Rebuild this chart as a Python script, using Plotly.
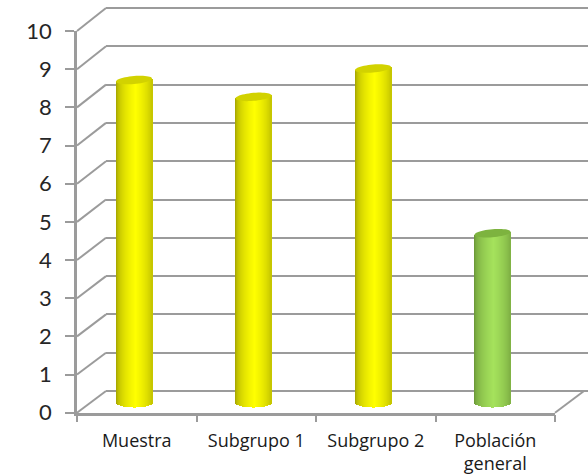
import math
import plotly.graph_objects as go

categories = ["Muestra", "Subgrupo 1", "Subgrupo 2", "Población<br>general"]
values = [8.42, 7.98, 8.72, 4.42]
y_ticks = list(range(0, 11))

W, H = 588, 476
GRID = "#9b9b9b"
TEXT = "#262626"
FONT = "Lato, sans-serif"
XFONT = "Open Sans, sans-serif"

# colour stops per bar: (edge, centre, cap)
palette = [
    ((140, 140, 0), (255, 255, 0), "#d2d200"),
    ((140, 140, 0), (255, 255, 0), "#d2d200"),
    ((140, 140, 0), (255, 255, 0), "#d2d200"),
    ((90, 130, 45), (165, 226, 92), "#7db33f"),
]


def px(v):
    return v / W


def py(v):
    return 1 - v / H


fig = go.Figure()

# Front axes: ticks and labels
FX0, FX1, FY0, FY10 = 77, 555, 412.7, 31
# Back wall: gridlines
BX0, BX1, BY0, BY10 = 106, 588, 391, 8
# Bar plane: a full-page axis, pixel aligned
CENTER0, STEP, BAR_Y0, UNIT = 134, 119.5, 402.5, 38.3
BAR_HALF_PX, ELL_PX, ELL_BOTTOM_PX, TILT_PX = 18, 4.0, 5.0, 1.5

bar_half = BAR_HALF_PX / STEP
ell = ELL_PX / UNIT
ell_bottom = ELL_BOTTOM_PX / UNIT
tilt = TILT_PX / UNIT

strips = 36
for s in range(strips):
    t0 = -1 + 2 * s / strips
    t1 = t0 + 2 / strips
    t = (t0 + t1) / 2
    arc = math.sqrt(max(0, 1 - t * t)) * ell_bottom
    shade = max(0.0, 1 - abs(t - 0.08) / 1.08) ** 0.38
    cols = []
    for edge, centre, _ in palette:
        c = [round(edge[i] + (centre[i] - edge[i]) * shade) for i in range(3)]
        cols.append(f"rgb({c[0]},{c[1]},{c[2]})")
    fig.add_trace(go.Bar(
        x=list(range(len(categories))),
        y=[v + arc + tilt * t for v in values],
        base=[-arc] * len(values),
        width=(t1 - t0) * bar_half * 1.06,
        offset=t0 * bar_half,
        marker=dict(color=cols, line=dict(width=0)),
        xaxis="x3", yaxis="y3", showlegend=False, hoverinfo="skip",
    ))

fig.add_trace(go.Scatter(x=[None], y=[None], xaxis="x", yaxis="y", showlegend=False))
fig.add_trace(go.Scatter(x=[None], y=[None], xaxis="x2", yaxis="y2", showlegend=False))

shapes = []
# Slanted connectors from the front axis to the back wall
for v in y_ticks:
    shapes.append(dict(
        type="line", xref="paper", yref="paper", layer="below",
        x0=px(FX0), x1=px(BX0),
        y0=py(FY0 + (FY10 - FY0) * v / 10), y1=py(BY0 + (BY10 - BY0) * v / 10),
        line=dict(color=GRID, width=2),
    ))
shapes.append(dict(
    type="line", xref="paper", yref="paper", layer="below",
    x0=px(FX1), x1=px(FX1 + 29), y0=py(FY0), y1=py(BY0),
    line=dict(color=GRID, width=2),
))
# Cylinder caps: slightly tilted ellipses
for i, v in enumerate(values):
    pts = []
    for k in range(48):
        a = 2 * math.pi * k / 48
        pts.append((i + bar_half * math.cos(a),
                    v + ell * math.sin(a) + tilt * math.cos(a)))
    path = "M " + " L ".join(f"{x:.4f},{y:.4f}" for x, y in pts) + " Z"
    shapes.append(dict(
        type="path", path=path, xref="x3", yref="y3", layer="above",
        fillcolor=palette[i][2], line=dict(width=0),
    ))

# Back wall axis padded slightly so the 0 and 10 gridlines are drawn
PAD = 0.2
back_unit = (BY0 - BY10) / 10

fig.update_layout(
    width=W, height=H,
    margin=dict(l=0, r=0, t=0, b=0),
    paper_bgcolor="white", plot_bgcolor="rgba(0,0,0,0)",
    barmode="overlay", bargap=0, showlegend=False,
    shapes=shapes,
    xaxis=dict(
        domain=[px(FX0), px(FX1)], range=[-0.5, 3.5], anchor="y",
        tickmode="array", tickvals=[0, 1, 2, 3], ticktext=categories,
        showgrid=False, showline=True, linecolor=GRID, linewidth=2.5,
        ticks="", tickfont=dict(family=XFONT, size=18, color="#1a1a1a"),
        ticklabelstandoff=10, automargin=False, zeroline=False,
        minor=dict(tickmode="array", tickvals=[-0.5, 0.5, 1.5, 2.5, 3.5],
                   ticks="outside", ticklen=7, tickwidth=2, tickcolor=GRID),
    ),
    yaxis=dict(
        domain=[py(FY0), py(FY10)], range=[0, 10], anchor="x",
        tickmode="array", tickvals=y_ticks,
        showgrid=False, showline=True, linecolor=GRID, linewidth=2.5,
        ticks="outside", ticklen=9, tickwidth=2, tickcolor=GRID,
        tickfont=dict(family=FONT, size=22, color=TEXT),
        ticklabelstandoff=9, automargin=False, zeroline=False,
    ),
    xaxis2=dict(
        domain=[px(BX0), px(BX1)], range=[0, 1], anchor="y2",
        visible=False, showgrid=False, zeroline=False,
    ),
    yaxis2=dict(
        domain=[py(BY0 + PAD * back_unit), py(BY10 - PAD * back_unit)],
        range=[-PAD, 10 + PAD], anchor="x2",
        tickmode="array", tickvals=y_ticks, showticklabels=False,
        showgrid=True, gridcolor=GRID, gridwidth=2, showline=False, ticks="",
        zeroline=False, automargin=False,
    ),
    xaxis3=dict(
        domain=[0, 1],
        range=[(0 - CENTER0) / STEP, (W - CENTER0) / STEP],
        anchor="y3", visible=False, showgrid=False, zeroline=False, fixedrange=True,
    ),
    yaxis3=dict(
        domain=[0, 1],
        range=[(BAR_Y0 - H) / UNIT, BAR_Y0 / UNIT],
        anchor="x3", visible=False, showgrid=False, zeroline=False, fixedrange=True,
    ),
)

fig.write_html(
    "out.html",
    config={"displayModeBar": False},
    post_script="document.body.style.margin='0';document.documentElement.style.overflow='hidden';",
)
